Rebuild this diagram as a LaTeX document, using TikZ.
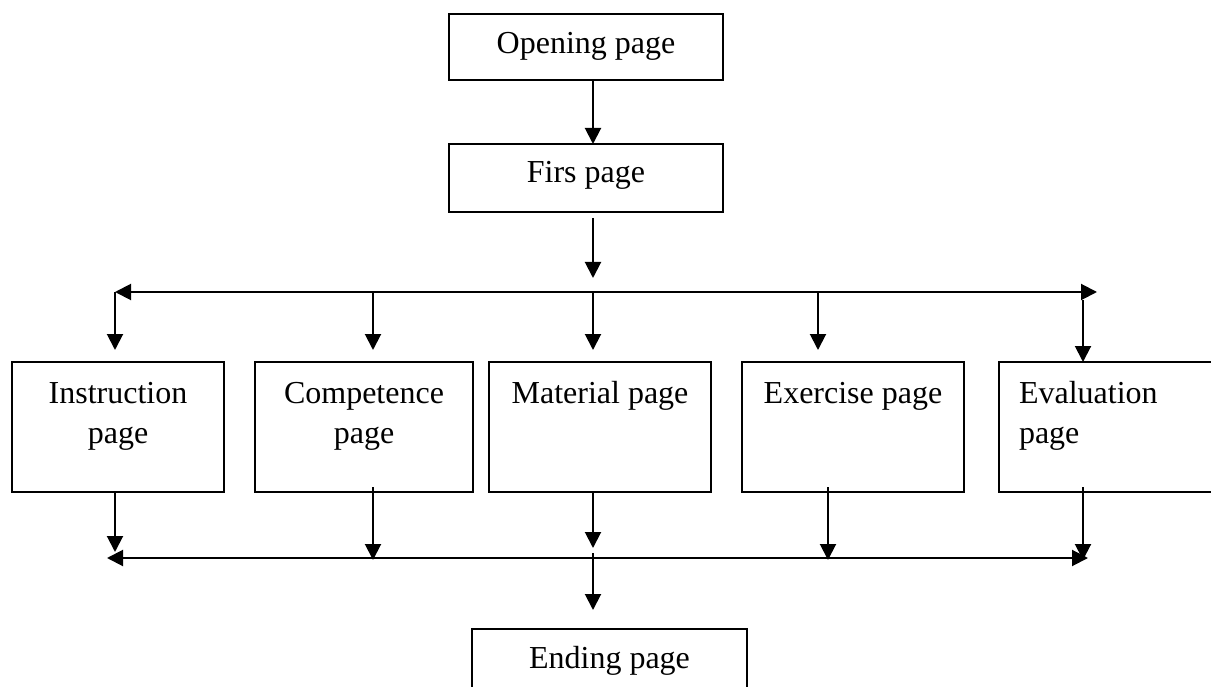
\documentclass[tikz,border=0pt]{standalone}
\usepackage{fontspec}
\setmainfont{Liberation Serif}
\usetikzlibrary{arrows.meta}
\begin{document}
\begin{tikzpicture}[x=1pt,y=-1pt,
  lbl/.style={inner sep=0pt,outer sep=0pt,anchor=base,font=\fontsize{32}{40}\selectfont},
  boxline/.style={line width=1.4pt},
  arr/.style={line width=2pt,-{Triangle[length=16pt,width=16pt]}},
  barr/.style={line width=2pt,{Triangle[length=16pt,width=16pt]}-{Triangle[length=16pt,width=16pt]}}]
\useasboundingbox (0,0) rectangle (1211,687);
% boxes
\draw[boxline] (449,14) rectangle (723,80);
\node[lbl] (topen) at (586,54) {Opening page};
\draw[boxline] (449,144) rectangle (723,212);
\node[lbl] (tfirs) at (586,183) {Firs page};
\draw[boxline] (12,362) rectangle (224,492);
\draw[boxline] (255,362) rectangle (473,492);
\draw[boxline] (489,362) rectangle (711,492);
\draw[boxline] (742,362) rectangle (964,492);
\draw[boxline] (999,362) rectangle (1260,492);
\draw[boxline] (472,629) rectangle (747,720);
\node[lbl] (tinstr) at (118,403) {\begin{tabular}[t]{@{}c@{}}Instruction\\page\end{tabular}};
\node[lbl] (tcomp) at (364,403) {\begin{tabular}[t]{@{}c@{}}Competence\\page\end{tabular}};
\node[lbl] (tmat) at (600,403) {Material page};
\node[lbl] (texer) at (853,403) {Exercise page};
\node[lbl,anchor=base west] (teval) at (1019,403) {\begin{tabular}[t]{@{}l@{}}Evaluation\\page\end{tabular}};
\node[lbl] (tend) at (609.5,668) {Ending page};
% coordinates
\coordinate (a1s) at (593,80);   \coordinate (a1e) at (593,144);
\coordinate (a2s) at (593,218);  \coordinate (a2e) at (593,278);
\coordinate (busL) at (115,292); \coordinate (busR) at (1097,292);
\coordinate (d1s) at (115,292);  \coordinate (d1e) at (115,350);
\coordinate (d2s) at (373,292);  \coordinate (d2e) at (373,350);
\coordinate (d3s) at (593,292);  \coordinate (d3e) at (593,350);
\coordinate (d4s) at (818,292);  \coordinate (d4e) at (818,350);
\coordinate (d5s) at (1083,300); \coordinate (d5e) at (1083,362);
\coordinate (u1s) at (115,492);  \coordinate (u1e) at (115,552);
\coordinate (u2s) at (373,487);  \coordinate (u2e) at (373,560);
\coordinate (u3s) at (593,491);  \coordinate (u3e) at (593,548);
\coordinate (u4s) at (828,487);  \coordinate (u4e) at (828,560);
\coordinate (u5s) at (1083,487); \coordinate (u5e) at (1083,560);
\coordinate (bbL) at (107,558);  \coordinate (bbR) at (1088,558);
\coordinate (ens) at (593,553);  \coordinate (ene) at (593,610);
% connectors
\draw[arr] (a1s) -- (a1e);
\draw[arr] (a2s) -- (a2e);
\draw[barr] (busL) -- (busR);
\foreach \i in {1,...,5} {\draw[arr] (d\i s) -- (d\i e);}
\foreach \i in {1,...,5} {\draw[arr] (u\i s) -- (u\i e);}
\draw[barr] (bbL) -- (bbR);
\draw[arr] (ens) -- (ene);
\end{tikzpicture}
\end{document}
